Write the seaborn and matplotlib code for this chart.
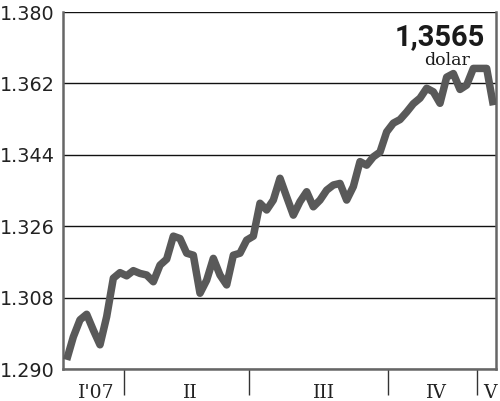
import numpy as np
import pandas as pd
import seaborn as sns
import matplotlib.pyplot as plt

# EUR/USD rate (one point per step)
rate = [
    1.2923, 1.2981, 1.3024, 1.3038, 1.2998, 1.2961, 1.3032, 1.3129, 1.3143, 1.3135,
    1.3148, 1.3141, 1.3137, 1.3120, 1.3162, 1.3177, 1.3235, 1.3229, 1.3192, 1.3187,
    1.3091, 1.3124, 1.3179, 1.3137, 1.3112, 1.3187, 1.3192, 1.3225, 1.3235, 1.3318,
    1.3301, 1.3326, 1.3381, 1.3334, 1.3288, 1.3322, 1.3347, 1.3309, 1.3326, 1.3351,
    1.3364, 1.3368, 1.3326, 1.3360, 1.3423, 1.3414, 1.3435, 1.3447, 1.3498, 1.3520,
    1.3529, 1.3548, 1.3569, 1.3583, 1.3608, 1.3599, 1.3570, 1.3636, 1.3645, 1.3605,
    1.3616, 1.3658, 1.3658, 1.3658, 1.3565,
]
step = list(range(len(rate)))

y_ticks = [1.290, 1.308, 1.326, 1.344, 1.362, 1.380]
month_labels = ["I'07", "II", "III", "IV", "V"]
month_centres = [4.4, 18.5, 38.6, 55.4, 63.5]
month_bounds = [8.6, 27.3, 48.2, 61.5]

last_value = "1,3565"
unit = "dolar"

df = pd.DataFrame({"step": step, "rate": rate})

sns.set_style("white")
plt.rcParams["font.family"] = ["DejaVu Sans"]

fig = plt.figure(figsize=(5, 4.01), dpi=100)
ax = fig.add_axes([0.126, 0.0798, 0.866, 0.890])

sns.lineplot(data=df, x="step", y="rate", ax=ax, color="#595959",
             linewidth=5.4, solid_joinstyle="round", solid_capstyle="butt",
             zorder=3)

ax.set_xlim(-0.55, 64.4)
ax.set_ylim(1.290, 1.380)
ax.set_yticks(y_ticks)
ax.set_yticklabels([f"{v:.3f}" for v in y_ticks], fontsize=13.8, color="#222222")
ax.tick_params(axis="y", length=0, pad=6)

ax.set_xticks(month_centres)
ax.set_xticklabels(month_labels, family="DejaVu Serif", fontsize=13.5,
                   color="#222222")
ax.set_xticks(month_bounds, minor=True)
ax.tick_params(axis="x", which="major", length=0, pad=11)
ax.tick_params(axis="x", which="minor", bottom=True, length=19, width=1.0,
               color="#333333", direction="out")

ax.grid(axis="y", color="#111111", linewidth=1.0)
ax.grid(axis="x", visible=False)
ax.set_xlabel("")
ax.set_ylabel("")

for side in ["left", "bottom", "right"]:
    ax.spines[side].set_visible(True)
    ax.spines[side].set_color("#666666")
    ax.spines[side].set_linewidth(1.8)
ax.spines["top"].set_visible(False)

ax.text(0.975, 0.968, last_value, transform=ax.transAxes, ha="right", va="top",
        family="Roboto", fontweight="bold", fontsize=21, color="#1a1a1a")
ax.text(0.94, 0.888, unit, transform=ax.transAxes, ha="right", va="top",
        family="DejaVu Serif", fontsize=12.5, color="#1a1a1a")

fig.savefig("out.png", dpi=100)
